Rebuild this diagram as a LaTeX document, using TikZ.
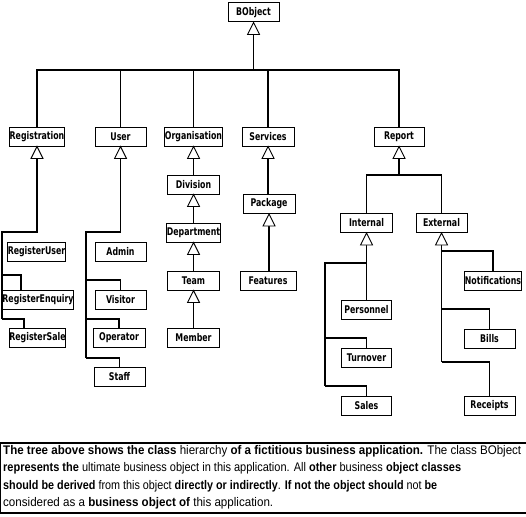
\documentclass[tikz,border=0pt]{standalone}
\usepackage{fontspec}
\setmainfont{Liberation Sans}
\newfontfamily\boxfont[FakeStretch=0.74]{DejaVu Sans}
\usepackage{graphicx}
\newcommand\capline[2]{\setbox0=\hbox{\fontsize{12.5}{15}\selectfont #2}\pgfmathsetmacro\capsc{#1/\the\wd0}\scalebox{\capsc}[1]{\box0}}
\tikzset{
  cls/.style={draw, line width=1pt, minimum height=19pt, inner sep=0pt, fill=white,
    font=\boxfont\bfseries\fontsize{10.6}{12}\selectfont},
  ln/.style={line width=1.1pt},
  inh/.style={draw, fill=white, line width=0.9pt, line join=miter},
  capt/.style={anchor=base west, inner sep=0pt}
}
\begin{document}
\begin{tikzpicture}[x=1pt,y=-1pt]
\useasboundingbox (0,0) rectangle (526,516);
% classes
\node[cls, minimum width=51pt] (bobj) at (253.5,12.5) {BObject};
\node[cls, minimum width=54pt] (reg) at (37,136.5) {Registration};
\node[cls, minimum width=51pt] (usr) at (120.5,136.5) {User};
\node[cls, minimum width=57pt] (org) at (193.5,136.5) {Organisation};
\node[cls, minimum width=52pt] (srv) at (268,136.5) {Services};
\node[cls, minimum width=50pt] (rep) at (399,136.5) {Report};
\node[cls, minimum width=57pt] (ruser) at (36.5,251.5) {RegisterUser};
\node[cls, minimum width=70pt] (renq) at (38,299.5) {RegisterEnquiry};
\node[cls, minimum width=55pt] (rsale) at (37.5,338) {RegisterSale};
\node[cls, minimum width=51pt] (admin) at (120.5,251.5) {Admin};
\node[cls, minimum width=51pt] (vis) at (120.5,299.5) {Visitor};
\node[cls, minimum width=52pt] (op) at (119,338) {Operator};
\node[cls, minimum width=51pt] (staff) at (119.5,376.5) {Staff};
\node[cls, minimum width=52pt] (div) at (193.5,184.5) {Division};
\node[cls, minimum width=52pt] (dep) at (193.5,232.5) {Department};
\node[cls, minimum width=52pt] (team) at (193.5,280.5) {Team};
\node[cls, minimum width=52pt] (mem) at (193.5,338) {Member};
\node[cls, minimum width=52pt] (pkg) at (269,204) {Package};
\node[cls, minimum width=56pt] (feat) at (268,280.5) {Features};
\node[cls, minimum width=52pt] (int) at (366.5,223) {Internal};
\node[cls, minimum width=51pt] (ext) at (441.5,223) {External};
\node[cls, minimum width=50pt] (pers) at (366.5,309.5) {Personnel};
\node[cls, minimum width=50pt] (turn) at (366.5,357.5) {Turnover};
\node[cls, minimum width=50pt] (sales) at (366.5,405.5) {Sales};
\node[cls, minimum width=56pt] (notif) at (493,280.5) {Notifications};
\node[cls, minimum width=51pt] (bills) at (489.5,338.5) {Bills};
\node[cls, minimum width=51pt] (rec) at (489.5,405.5) {Receipts};
% top bus
\coordinate (busT) at (253.5,70);
\draw[ln] ([yshift=-12pt]bobj.south) -- (busT);
\foreach \c in {reg,usr,org,srv,rep} \draw[ln] (\c.north) |- (busT);
% Registration
\coordinate (rA) at (2,232);
\coordinate (rE) at (2,275);
\coordinate (rS) at (2,319);
\draw[ln] ([yshift=-12pt]reg.south) |- (rA) -- (rS);
\draw[ln] (rE) -| ([xshift=-17pt]renq.north);
\draw[ln] (rS) -| ([xshift=-13.5pt]rsale.north);
% User
\coordinate (uA) at (86,232);
\coordinate (uV) at (86,280);
\coordinate (uO) at (86,319);
\coordinate (uS) at (86,358);
\draw[ln] ([yshift=-12pt]usr.south) |- (uA) -- (uS);
\draw[ln] (uV) -| (vis.north);
\draw[ln] (uO) -| (op.north);
\draw[ln] (uS) -| (staff.north);
% Organisation
\draw[ln] ([yshift=-12pt]org.south) -- (div.north);
\draw[ln] ([yshift=-12pt]div.south) -- (dep.north);
\draw[ln] ([yshift=-12pt]dep.south) -- (team.north);
\draw[ln] ([yshift=-12pt]team.south) -- (mem.north);
% Services
\draw[ln] ([yshift=-12pt]srv.south) -- (pkg.north -| srv.south);
\draw[ln] ([yshift=-12pt]pkg.south) -- (feat.north -| pkg.south);
% Report
\coordinate (repJ) at (399,175);
\draw[ln] ([yshift=-12pt]rep.south) -- (repJ);
\draw[ln] (int.north) |- (repJ);
\draw[ln] (ext.north) |- (repJ);
% Internal
\coordinate (iA) at (325,263);
\coordinate (iT) at (325,338);
\coordinate (iS) at (325,386);
\draw[ln] ([yshift=-12pt]int.south) -- (pers.north);
\draw[ln] (int.south |- iA) -- (iA) -- (iS);
\draw[ln] (iT) -| (turn.north);
\draw[ln] (iS) -| (sales.north);
% External
\coordinate (eN) at (441.5,251);
\coordinate (eB) at (441.5,309);
\coordinate (eR) at (441.5,362);
\draw[ln] ([yshift=-12pt]ext.south) -- (eR);
\draw[ln] (eN) -| (notif.north);
\draw[ln] (eB) -| (bills.north);
\draw[ln] (eR) -| (rec.north);
% inheritance triangles
\foreach \p in {bobj,reg,usr,org,srv,rep,div,dep,team,pkg,int,ext}
  \draw[inh] (\p.south) -- ++(-6,12) -- ++(12,0) -- cycle;
% caption
\draw[line width=1.3pt] (530,443) -- (0.8,443) -- (0.8,513) -- (530,513);
\node[capt] (c1) at (3,454) {\capline{518}{\textbf{The tree above shows the class} hierarchy \textbf{of a fictitious business application.} The class BObject}};
\node[capt] (c2) at (3,471.5) {\capline{458}{\textbf{represents the} ultimate business object in this application. All \textbf{other} business \textbf{object classes}}};
\node[capt] (c3) at (3,489) {\capline{434}{\textbf{should be derived} from this object \textbf{directly or indirectly}. \textbf{If not the object should} not \textbf{be}}};
\node[capt] (c4) at (3,506) {\capline{270}{considered as a \textbf{business object of} this application.}};
\end{tikzpicture}
\end{document}
